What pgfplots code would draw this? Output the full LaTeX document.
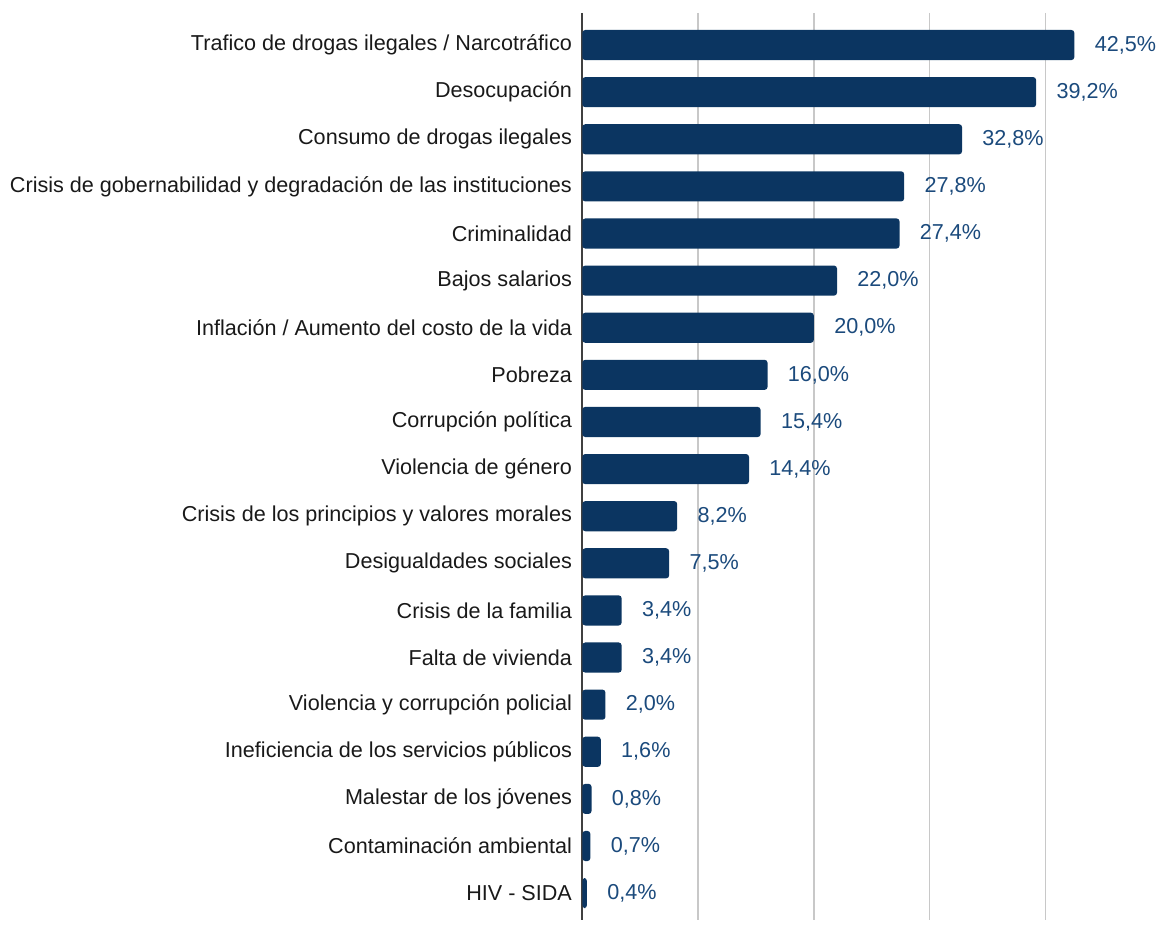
\documentclass[border=0pt]{standalone}
\usepackage{fontspec}
\setmainfont{Liberation Sans}
\usepackage{pgfplots}
\pgfplotsset{compat=1.18}
\definecolor{barblue}{HTML}{0B3561}
\definecolor{lblblue}{HTML}{1B4A7C}
\definecolor{gridgray}{HTML}{C8C8C8}
\begin{document}
\begin{tikzpicture}
\begin{axis}[
  scale only axis, width=260.5pt, height=453.5pt,
  xmin=0, xmax=45, ymin=-0.68, ymax=18.57, y dir=reverse,
  xbar, bar width=0.64,
  axis line style={draw=none},
  major tick length=0pt,
  xtick={10,20,30,40}, xticklabels={},
  xmajorgrids, grid style={gridgray, line width=0.8pt},
  extra x ticks={0}, extra x tick labels={},
  extra x tick style={grid style={black!75, line width=0.9pt}},
  ytick={0,...,18},
  yticklabels={Trafico de drogas ilegales / Narcotráfico, Desocupación, Consumo de drogas ilegales, Crisis de gobernabilidad y degradación de las instituciones, Criminalidad, Bajos salarios, Inflación / Aumento del costo de la vida, Pobreza, Corrupción política, Violencia de género, Crisis de los principios y valores morales, Desigualdades sociales, Crisis de la familia, Falta de vivienda, Violencia y corrupción policial, Ineficiencia de los servicios públicos, Malestar de los jóvenes, Contaminación ambiental, HIV - SIDA},
  yticklabel style={font=\fontsize{10.8}{12}\selectfont, text=black!90, inner sep=0pt, xshift=-5pt},
  clip=false,
  nodes near coords={\pgfmathprintnumber[fixed,fixed zerofill,precision=1,use comma,assume math mode=true]{\pgfplotspointmeta}\%},
  every node near coord/.append style={anchor=west, font=\fontsize{10.8}{12}\selectfont, text=lblblue, inner sep=0pt, xshift=10pt},
]
\addplot[fill=barblue, draw=none, rounded corners=1.5pt] coordinates {
(42.5,0) (39.2,1) (32.8,2) (27.8,3) (27.4,4) (22.0,5) (20.0,6) (16.0,7) (15.4,8) (14.4,9)
(8.2,10) (7.5,11) (3.4,12) (3.4,13) (2.0,14) (1.6,15) (0.8,16) (0.7,17) (0.4,18)};
\end{axis}
\path ([yshift=6.5pt]current axis.north west);
\path ([xshift=-5pt]current axis.outer west);
\end{tikzpicture}
\end{document}
